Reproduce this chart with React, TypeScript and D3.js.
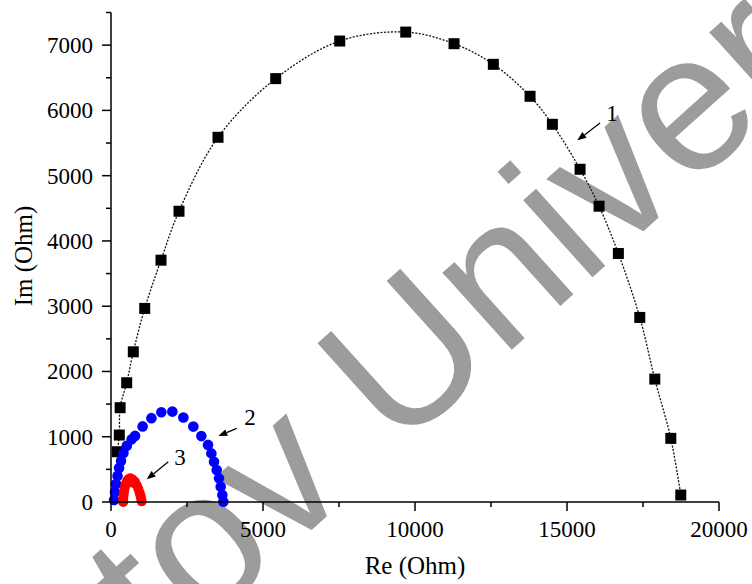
import * as d3 from "d3";

// curve 1 (black squares + dotted fit)
const curve1Re = [207, 273, 300, 516, 734, 1109, 1645, 2237, 3520, 5418, 7524, 9695, 11284, 12577, 13785, 14519, 15430, 16055, 16690, 17394, 17888, 18414, 18743];
const curve1Im = [770, 1026, 1445, 1827, 2301, 2966, 3705, 4455, 5588, 6487, 7063, 7200, 7022, 6706, 6216, 5787, 5098, 4532, 3807, 2828, 1883, 975, 107];

// curve 2 (blue circles)
const curve2Re = [100, 130, 165, 215, 265, 330, 410, 520, 680, 790, 1040, 1330, 1656, 2018, 2380, 2709, 2972, 3191, 3301, 3389, 3477, 3553, 3609, 3663, 3695];
const curve2Im = [30, 150, 275, 400, 520, 630, 750, 860, 960, 1013, 1158, 1285, 1375, 1385, 1295, 1155, 1010, 875, 745, 617, 490, 362, 235, 107, 5];

// curve 3 (red circles)
const curve3Re = [400, 404, 412, 425, 443, 467, 498, 535, 580, 630, 710, 785, 848, 900, 942, 970, 992, 1010, 560, 640, 720];
const curve3Im = [0, 50, 100, 150, 200, 245, 290, 325, 350, 362, 345, 310, 258, 200, 142, 95, 50, 10, 300, 310, 295];

const xTickValues = [0, 5000, 10000, 15000, 20000];
const xMinorValues = [2500, 7500, 12500, 17500];
const yTickValues = [0, 1000, 2000, 3000, 4000, 5000, 6000, 7000];
const yMinorValues = [500, 1500, 2500, 3500, 4500, 5500, 6500, 7500];

// curve labels: text position, arrow start, arrow end (data units)
const labelTexts = ["1", "2", "3"];
const labelPos = [[16480, 5954], [4572, 1301], [2270, 689]];
const arrowFrom = [[16086, 5806], [4135, 1128], [1885, 617]];
const arrowTo = [[15339, 5541], [3530, 1010], [1174, 347]];

const W = 752;
const H = 584;
const serif = "'Liberation Serif', 'Times New Roman', serif";

const App = () => {
  const x = d3.scaleLinear().domain([0, 20000]).range([111, 719]);
  const y = d3.scaleLinear().domain([0, 7500]).range([502, 12.5]);

  const pts1 = curve1Re.map((r, i) => [r, curve1Im[i]] as [number, number]);
  const pts2 = curve2Re.map((r, i) => [r, curve2Im[i]] as [number, number]);
  const pts3 = curve3Re.map((r, i) => [r, curve3Im[i]] as [number, number]);

  const line = d3
    .line<[number, number]>()
    .x((d) => x(d[0]))
    .y((d) => y(d[1]))
    .curve(d3.curveCatmullRom);

  const sq = 11;

  return (
    <div style={{ position: "fixed", left: 0, top: 0 }}>
      <svg width={W} height={H} style={{ display: "block", background: "#fff" }}>
        {/* watermark */}
        <g transform="translate(-146,942) rotate(-42)">
          <text x={0} y={0} fontFamily="'Liberation Sans', Arial, sans-serif" fontSize={196} fill="#9c9c9c">
            Saratov University
          </text>
        </g>

        {/* fit line */}
        <path d={line(pts1) ?? ""} fill="none" stroke="#111" strokeWidth={1.3} strokeDasharray="2,1.5" />

        {pts1.map((d, i) => (
          <rect key={"s" + i} x={x(d[0]) - sq / 2} y={y(d[1]) - sq / 2} width={sq} height={sq} fill="#000" />
        ))}
        {pts2.map((d, i) => (
          <circle key={"b" + i} cx={x(d[0])} cy={y(d[1])} r={5.3} fill="#0000ff" />
        ))}
        {pts3.map((d, i) => (
          <circle key={"r" + i} cx={x(d[0])} cy={y(d[1])} r={5} fill="#ff0000" />
        ))}

        {/* axes */}
        <g stroke="#000" strokeWidth={1.5}>
          <line x1={x(0)} x2={x(20000)} y1={y(0)} y2={y(0)} />
          <line x1={x(0)} x2={x(0)} y1={y(0)} y2={y(7500)} />
          {xTickValues.map((t) => (
            <line key={"xt" + t} x1={x(t)} x2={x(t)} y1={y(0)} y2={y(0) + 9} />
          ))}
          {xMinorValues.map((t) => (
            <line key={"xm" + t} x1={x(t)} x2={x(t)} y1={y(0)} y2={y(0) + 5} />
          ))}
          {yTickValues.map((t) => (
            <line key={"yt" + t} x1={x(0) - 9} x2={x(0)} y1={y(t)} y2={y(t)} />
          ))}
          {yMinorValues.map((t) => (
            <line key={"ym" + t} x1={x(0) - 5} x2={x(0)} y1={y(t)} y2={y(t)} />
          ))}
        </g>

        <g fontFamily={serif} fontSize={23} fill="#000">
          {xTickValues.map((t) => (
            <text key={"xl" + t} x={x(t)} y={y(0) + 35} textAnchor="middle">
              {t}
            </text>
          ))}
          {yTickValues.map((t) => (
            <text key={"yl" + t} x={x(0) - 18} y={y(t) + 8} textAnchor="end">
              {t}
            </text>
          ))}
        </g>

        <text x={415} y={574} textAnchor="middle" fontFamily={serif} fontSize={25}>
          Re (Ohm)
        </text>
        <text
          transform="translate(32,256) rotate(-90)"
          textAnchor="middle"
          fontFamily={serif}
          fontSize={25}
        >
          Im (Ohm)
        </text>

        {/* curve labels with arrows */}
        {labelTexts.map((s, i) => {
          const x1 = x(arrowFrom[i][0]);
          const y1 = y(arrowFrom[i][1]);
          const x2 = x(arrowTo[i][0]);
          const y2 = y(arrowTo[i][1]);
          const a = Math.atan2(y2 - y1, x2 - x1);
          const hl = 9;
          const hw = 3.5;
          const bx = x2 - hl * Math.cos(a);
          const by = y2 - hl * Math.sin(a);
          const head = `M${x2},${y2}L${bx - hw * Math.sin(a)},${by + hw * Math.cos(a)}L${bx + hw * Math.sin(a)},${by - hw * Math.cos(a)}Z`;
          return (
            <g key={"lab" + i}>
              <line x1={x1} y1={y1} x2={bx} y2={by} stroke="#000" strokeWidth={1.2} />
              <path d={head} fill="#000" />
              <text
                x={x(labelPos[i][0])}
                y={y(labelPos[i][1]) + 8}
                textAnchor="middle"
                fontFamily={serif}
                fontSize={23}
              >
                {s}
              </text>
            </g>
          );
        })}
      </svg>
    </div>
  );
};

export default App;
